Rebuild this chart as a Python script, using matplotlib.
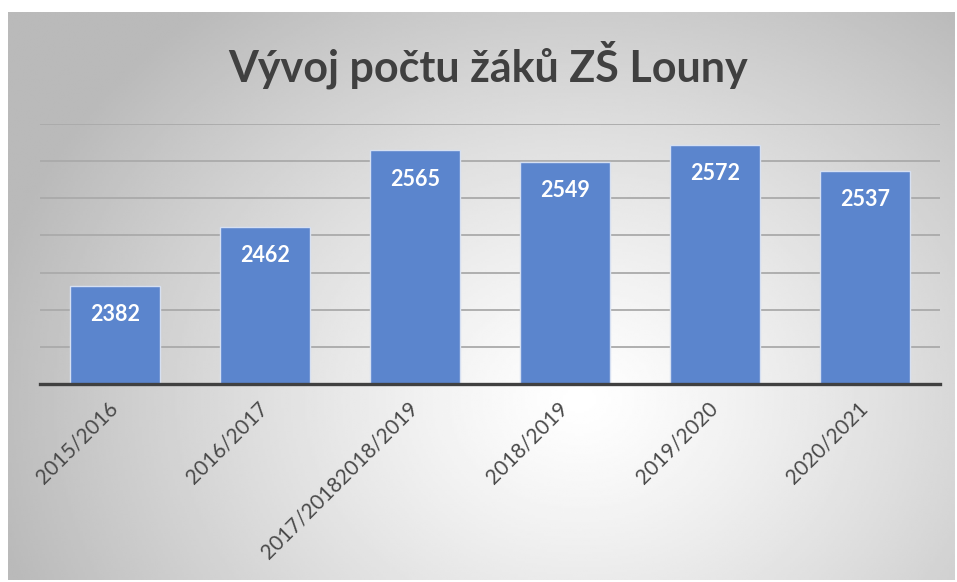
import numpy as np
import matplotlib
matplotlib.use("Agg")
import matplotlib.pyplot as plt

years = ["2015/2016", "2016/2017", "2017/20182018/2019", "2018/2019", "2019/2020", "2020/2021"]
pupils = [2382, 2462, 2565, 2549, 2572, 2537]

W, H = 957, 582
fig = plt.figure(figsize=(W / 100, H / 100), dpi=100)
fig.patch.set_facecolor("white")

# radial gradient background panel
bg = fig.add_axes([0, 0, 1, 1])
bg.set_xlim(0, W)
bg.set_ylim(H, 0)
bg.axis("off")
gx, gy = np.meshgrid(np.linspace(8, 955, 400), np.linspace(12, 580, 250))
r = np.sqrt(((gx - 580) / 600) ** 2 + ((gy - 400) / 500) ** 2)
shade = 1.0 - 0.27 * np.clip(r, 0, 1) ** 1.2
bg.imshow(shade, cmap="gray", vmin=0, vmax=1, extent=(8, 955, 580, 12),
          interpolation="bilinear", aspect="auto")

ax = fig.add_axes([40 / W, 1 - 384 / H, 900 / W, 260 / H])
ax.patch.set_alpha(0)
x = np.arange(len(years))
bars = ax.bar(x, pupils, width=0.6, color="#5b85cd", edgecolor="#d6e0f2", linewidth=1, zorder=3)

ax.set_xlim(-0.5, len(years) - 0.5)
ax.set_ylim(2250, 2600)
ax.set_yticks(np.arange(2300, 2601, 50))
ax.yaxis.grid(True, color="#aaaaaa", linewidth=1.3, zorder=0)
ax.tick_params(axis="y", left=False, labelleft=False)
ax.tick_params(axis="x", length=0, pad=15)
for s in ["top", "right", "left"]:
    ax.spines[s].set_visible(False)
ax.spines["bottom"].set_color("#404040")
ax.spines["bottom"].set_linewidth(2.4)
ax.spines["bottom"].set_zorder(4)

ax.set_xticks(x)
ax.set_xticklabels(years, rotation=45, ha="right", va="center", rotation_mode="anchor",
                   fontsize=15, color="#4a4a4a", family="Lato")

for b, v in zip(bars, pupils):
    ax.annotate(str(v), (b.get_x() + b.get_width() / 2, v), xytext=(0, -29),
                textcoords="offset pixels", ha="center", va="center",
                color="white", fontsize=15.5, fontweight="bold", family="Lato", zorder=5)

fig.text(488 / W, 1 - 65 / H, "Vývoj počtu žáků ZŠ Louny", ha="center", va="center",
         fontsize=31, fontweight="bold", color="#404040", family="Lato")

fig.savefig("out.png", dpi=100)
